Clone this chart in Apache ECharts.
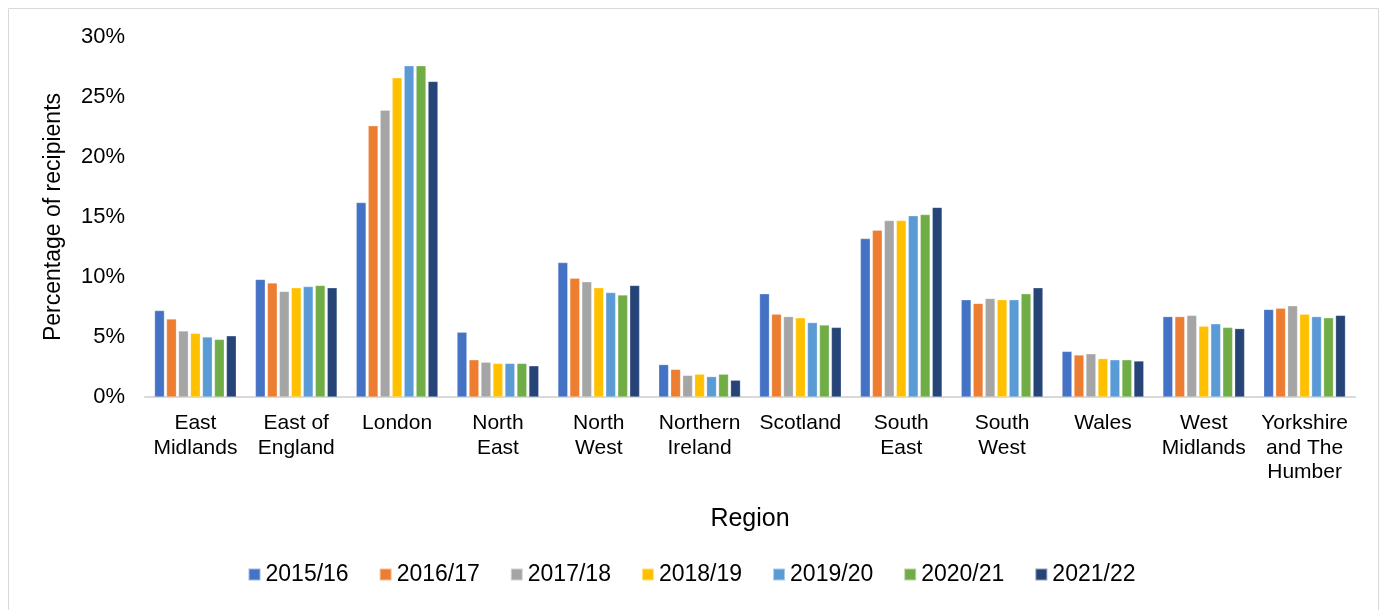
<!DOCTYPE html>
<html>
<head>
<meta charset="utf-8">
<script src="https://cdn.jsdelivr.net/npm/echarts@6/dist/echarts.min.js"></script>
<style>
  html, body { margin: 0; padding: 0; background: #fff; }
  #main { width: 1383px; height: 610px; }
</style>
</head>
<body>
<div id="main"></div>
<script>
var regions = ['East\nMidlands', 'East of\nEngland', 'London', 'North\nEast', 'North\nWest',
    'Northern\nIreland', 'Scotland', 'South\nEast', 'South\nWest', 'Wales', 'West\nMidlands',
    'Yorkshire\nand The\nHumber'];
var years = ['2015/16', '2016/17', '2017/18', '2018/19', '2019/20', '2020/21', '2021/22'];
var colors = ['#4472c4', '#ed7d31', '#a5a5a5', '#ffc000', '#5b9bd5', '#70ad47', '#264478'];

// percentage of recipients per region, one array per year
var y2015 = [7.2, 9.8, 16.2, 5.4, 11.2, 2.7, 8.6, 13.2, 8.1, 3.8, 6.7, 7.3];
var y2016 = [6.5, 9.5, 22.6, 3.1, 9.9, 2.3, 6.9, 13.9, 7.8, 3.5, 6.7, 7.4];
var y2017 = [5.5, 8.8, 23.9, 2.9, 9.6, 1.8, 6.7, 14.7, 8.2, 3.6, 6.8, 7.6];
var y2018 = [5.3, 9.1, 26.6, 2.8, 9.1, 1.9, 6.6, 14.7, 8.1, 3.2, 5.9, 6.9];
var y2019 = [5.0, 9.2, 27.6, 2.8, 8.7, 1.7, 6.2, 15.1, 8.1, 3.1, 6.1, 6.7];
var y2020 = [4.8, 9.3, 27.6, 2.8, 8.5, 1.9, 6.0, 15.2, 8.6, 3.1, 5.8, 6.6];
var y2021 = [5.1, 9.1, 26.3, 2.6, 9.3, 1.4, 5.8, 15.8, 9.1, 3.0, 5.7, 6.8];
var values = [y2015, y2016, y2017, y2018, y2019, y2020, y2021];

var myChart = echarts.init(document.getElementById('main'));

var series = years.map(function(name, i) {
    return {
        name: name,
        type: 'bar',
        data: values[i],
        barGap: '22%',
        barCategoryGap: '19%',
        itemStyle: {
            color: colors[i],
            borderColor: 'rgba(255,255,255,0.5)',
            borderWidth: 0.5
        }
    };
});

var option = {
    animation: false,
    color: colors,
    textStyle: { fontFamily: 'Liberation Sans, Arial, sans-serif' },
    graphic: [{
        type: 'rect',
        shape: { x: 8.5, y: 8.5, width: 1370, height: 610 },
        style: { fill: 'none', stroke: '#d9d9d9', lineWidth: 1 },
        silent: true
    }],
    grid: { left: 145, right: 28, top: 37, bottom: 213 },
    legend: {
        bottom: 19,
        left: 'center',
        itemWidth: 12,
        itemHeight: 12,
        itemGap: 30,
        icon: 'rect',
        textStyle: { fontSize: 23, color: '#000' },
        data: years
    },
    xAxis: {
        type: 'category',
        data: regions,
        name: 'Region',
        nameLocation: 'middle',
        nameGap: 110,
        nameTextStyle: { fontSize: 25, color: '#000' },
        axisLine: { lineStyle: { color: '#d9d9d9', width: 2 } },
        axisTick: { show: false },
        axisLabel: { fontSize: 21, color: '#000', lineHeight: 24.5, margin: 14, interval: 0 }
    },
    yAxis: {
        type: 'value',
        min: 0,
        max: 30,
        interval: 5,
        name: 'Percentage of recipients',
        nameLocation: 'middle',
        nameGap: 80,
        nameTextStyle: { fontSize: 23, color: '#000' },
        axisLine: { show: false },
        axisTick: { show: false },
        splitLine: { show: false },
        axisLabel: { fontSize: 22, color: '#000', margin: 20, formatter: '{value}%' }
    },
    series: series
};
myChart.setOption(option);
</script>
</body>
</html>
